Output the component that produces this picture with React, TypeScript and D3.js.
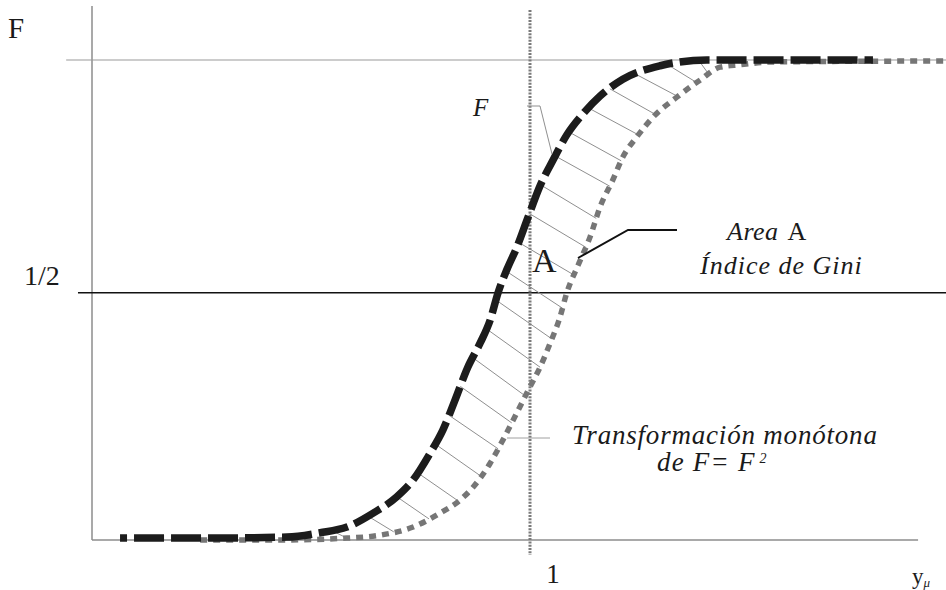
import React, { useRef, useEffect } from "react";
import * as d3 from "d3";

// Curve F (black, dashed): abscissa y/mu and cumulative share F
const curveX = [
  0.064, 0.247, 0.445, 0.521, 0.582, 0.642, 0.696, 0.733, 0.772, 0.801, 0.829, 0.858, 0.886, 0.909,
  0.927, 0.947, 0.97, 0.995, 1.023, 1.053, 1.084, 1.121, 1.16, 1.212, 1.297, 1.404, 1.783,
];
const curveF = [
  0.004, 0.004, 0.006, 0.015, 0.027, 0.056, 0.09, 0.125, 0.181, 0.229, 0.292, 0.36, 0.41, 0.458,
  0.515, 0.563, 0.61, 0.671, 0.738, 0.792, 0.844, 0.888, 0.925, 0.96, 0.988, 1.0, 1.0,
];

// Monotone transformation of F (grey, dotted)
const transX = [
  0.247, 0.429, 0.582, 0.658, 0.733, 0.795, 0.84, 0.87, 0.909, 0.938, 0.97, 1.0, 1.023, 1.046, 1.068,
  1.084, 1.11, 1.137, 1.16, 1.189, 1.212, 1.244, 1.281, 1.336, 1.388, 1.434, 1.479, 1.555, 1.95,
];
const transF = [
  0.0, 0.0, 0.004, 0.01, 0.027, 0.056, 0.083, 0.11, 0.16, 0.208, 0.265, 0.319, 0.36, 0.41, 0.463,
  0.515, 0.573, 0.631, 0.694, 0.75, 0.798, 0.84, 0.881, 0.923, 0.958, 0.985, 0.99, 0.996, 0.998,
];

// Hatching of area A: level on the black curve -> level on the grey curve
const hatchFromF = [
  0.02, 0.05, 0.09, 0.14, 0.2, 0.26, 0.32, 0.38, 0.44, 0.5, 0.56, 0.62, 0.68, 0.74, 0.8, 0.85, 0.9,
  0.94, 0.97, 0.99, 0.998,
];
const hatchToF = [
  0.004, 0.017, 0.044, 0.081, 0.133, 0.19, 0.244, 0.3, 0.36, 0.419, 0.483, 0.552, 0.61, 0.67, 0.737,
  0.79, 0.844, 0.886, 0.924, 0.953, 0.97,
];

// reference levels and tick labels
const halfLevel = 0.515; // the "1/2" line as drawn in the figure
const xTickValue = 1;
const xTickLabel = "1";
const yTickLabel = "1/2";

const W = 946;
const H = 590;
const SERIF = "Liberation Serif, DejaVu Serif, Times New Roman, serif";

type Pt = [number, number];

// x position on a curve where it reaches level f
function xAtLevel(xs: number[], fs: number[], f: number): number {
  for (let i = 1; i < fs.length; i++) {
    if (fs[i] >= f) {
      const t = fs[i] === fs[i - 1] ? 0 : (f - fs[i - 1]) / (fs[i] - fs[i - 1]);
      return xs[i - 1] + Math.max(0, t) * (xs[i] - xs[i - 1]);
    }
  }
  return xs[xs.length - 1];
}

const GiniChart = () => {
  const svgRef = useRef<SVGSVGElement>(null);

  useEffect(() => {
    const svg = d3.select(svgRef.current);
    svg.selectAll("*").remove();

    const x = d3.scaleLinear().domain([0, 2]).range([92, 968]);
    const y = d3.scaleLinear().domain([0, 1]).range([540, 60]);

    const g = svg.append("g");

    // axes
    g.append("line")
      .attr("x1", x(0)).attr("x2", x(0))
      .attr("y1", y(1.1125)).attr("y2", y(0))
      .attr("stroke", "#8c8c8c").attr("stroke-width", 1.5);
    g.append("line")
      .attr("x1", x(0)).attr("x2", x(1.886))
      .attr("y1", y(0)).attr("y2", y(0))
      .attr("stroke", "#8c8c8c").attr("stroke-width", 1.5);

    // F = 1 line
    g.append("line")
      .attr("x1", x(-0.059)).attr("x2", W)
      .attr("y1", y(1)).attr("y2", y(1))
      .attr("stroke", "#999").attr("stroke-width", 1.2);

    // 1/2 line
    g.append("line")
      .attr("x1", x(-0.032)).attr("x2", W)
      .attr("y1", y(halfLevel)).attr("y2", y(halfLevel))
      .attr("stroke", "#111").attr("stroke-width", 1.6);

    // hatch lines
    const pCurve: Pt[] = curveX.map((v, i) => [v, curveF[i]]);
    const pTrans: Pt[] = transX.map((v, i) => [v, transF[i]]);
    hatchFromF.forEach((f, i) => {
      const f2 = hatchToF[i];
      g.append("line")
        .attr("x1", x(xAtLevel(curveX, curveF, f))).attr("y1", y(f))
        .attr("x2", x(xAtLevel(transX, transF, f2))).attr("y2", y(f2))
        .attr("stroke", "#8f8f8f").attr("stroke-width", 1);
    });

    // vertical dotted line at y/mu = 1
    g.append("line")
      .attr("x1", x(xTickValue)).attr("x2", x(xTickValue))
      .attr("y1", y(1.104)).attr("y2", y(-0.031))
      .attr("stroke", "#7a7a7a").attr("stroke-width", 3)
      .attr("stroke-dasharray", "2 1.3");

    const line = d3.line<Pt>()
      .x(d => x(d[0]))
      .y(d => y(d[1]))
      .curve(d3.curveMonotoneX);

    g.append("path")
      .datum(pTrans)
      .attr("fill", "none")
      .attr("stroke", "#767676")
      .attr("stroke-width", 5.5)
      .attr("stroke-dasharray", "7 6")
      .attr("d", line);

    g.append("path")
      .datum(pCurve)
      .attr("fill", "none")
      .attr("stroke", "#1c1c1c")
      .attr("stroke-width", 7.5)
      .attr("stroke-dasharray", "30 7")
      .attr("stroke-dashoffset", 23)
      .attr("d", line);

    // leader lines for the annotations
    const leader = (pts: Pt[], color: string, w: number) =>
      g.append("path")
        .attr("d", d3.line<Pt>()(pts))
        .attr("fill", "none")
        .attr("stroke", color)
        .attr("stroke-width", w);
    leader([[527, 106], [540, 106], [552, 154]], "#8f8f8f", 1);
    leader([[578, 258], [628, 230], [677, 230]], "#111", 2);
    leader([[507, 438], [550, 438]], "#a0a0a0", 1);

    // text
    const txt = (tx: number, ty: number, s: string, size: number, italic = false, anchor = "start", spacing = 0) =>
      g.append("text")
        .attr("x", tx).attr("y", ty)
        .style("font-family", SERIF)
        .attr("font-size", size)
        .attr("font-style", italic ? "italic" : "normal")
        .attr("text-anchor", anchor)
        .attr("letter-spacing", spacing)
        .attr("fill", "#1a1a1a")
        .text(s);

    txt(8, 38, "F", 29);
    txt(24, 285, yTickLabel, 28);
    txt(553, 583, xTickLabel, 27, false, "middle");
    const yl = txt(912, 584, "y", 23);
    yl.append("tspan").attr("dy", 3).attr("font-size", 13).attr("font-style", "italic").text("μ");

    txt(473, 116, "F", 25, true);
    txt(532, 272, "A", 34);

    const area = txt(727, 240, "Area", 26, true, "start", 0.5);
    area.append("tspan").attr("font-style", "normal").attr("dx", 9).text("A");
    txt(700, 274, "Índice de Gini", 26, true, "start", 1);

    txt(572, 444, "Transformación monótona", 27, true, "start", 0.8);
    const de = txt(657, 471, "de F= F", 27, true, "start", 1.2);
    de.append("tspan").attr("dx", 4).attr("dy", -8).attr("font-size", 14).text("2");
  }, []);

  return (
    <svg
      ref={svgRef}
      width={W}
      height={H}
      style={{ position: "absolute", left: 0, top: 0, background: "#fff" }}
    />
  );
};

export default function App() {
  return <GiniChart />;
}
